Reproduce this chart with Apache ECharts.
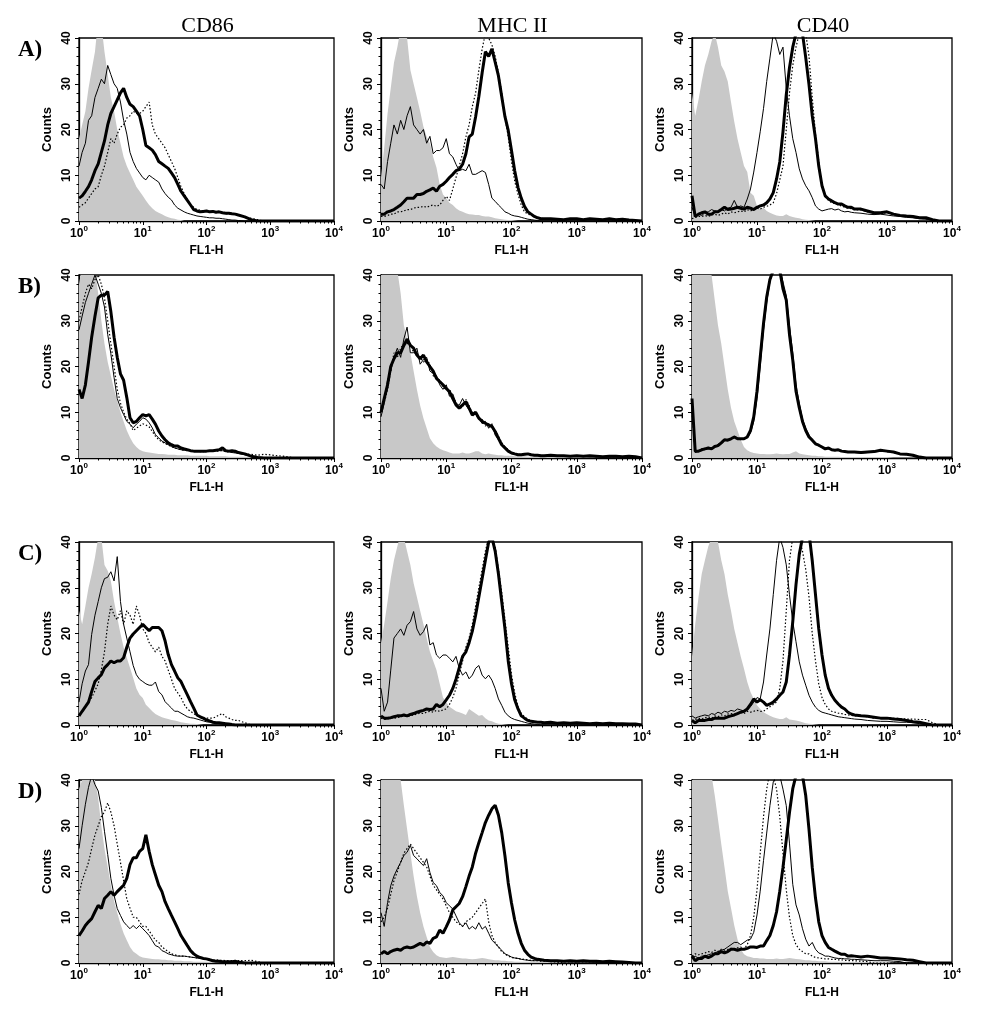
<!DOCTYPE html>
<html><head><meta charset="utf-8">
<script src="https://cdn.jsdelivr.net/npm/echarts@6/dist/echarts.min.js"></script>
<style>html,body{margin:0;padding:0;background:#fff}#c{width:993px;height:1015px}</style>
</head><body><div id="c"></div>
<script>
// FL1-H channel positions (shared x values)
const X = [1,1.12,1.26,1.41,1.58,1.78,2,2.24,2.51,2.82, 3.16,3.55,3.98,4.47,5.01,5.62,6.31,7.08,7.94,8.91,
 10,11.2,12.6,14.1,15.8,17.8,20,22.4,25.1,28.2, 31.6,35.5,39.8,44.7,50.1,56.2,63.1,70.8,79.4,89.1,
 100,112,126,141,158,178,200,224,251,282, 316,398,501,631,794,1000,1259,1585,1995,2512,
 3162,3981,5012,6310,7943,10000];
const COLUMN_TITLES = ['CD86','MHC II','CD40'];
const ROW_LABELS = ['A)','B)','C)','D)'];
const X_TICK_EXP = [0,1,2,3,4];
const Y_TICKS = [0,10,20,30,40];
const X_MINOR = [2,3,4,5,6,7,8,9,20,30,40,50,60,70,80,90,200,300,400,500,600,700,800,900,2000,3000,4000,5000,6000,7000,8000,9000];

// Row A
const A_CD86_iso = [18,21,24,29,33,37,44,43,37,32, 27,24,20,17,14,12,10.5,9,7.5,6.5, 5.5,4.5,3.5,2.8,2.2,1.8,1.5,1.1,0.8,0.6, 0.5,0.3,0.2,0,0,0,0,0,0,0, 0,0,0,0,0,0,0,0,0,0, 0,0,0,0,0,0,0,0,0,0, 0,0,0,0,0,0];
const A_CD86_thin = [12,15,17,22,23,27,29,31,30,34, 32,30,29,26,22,19,15,13,11.5,10.5, 9.5,9,10,9.5,9,8.5,7,6,5.2,4.6, 3.5,2.8,2.4,2,1.7,1.5,1.3,1.1,1,0.9, 0.8,0.7,0.7,0.6,0.6,0.5,0.4,0.3,0.2,0.2, 0.1,0,0,0,0,0,0,0,0,0, 0,0,0,0,0,0];
const A_CD86_thick = [5,5.5,6.5,7.5,9,11,12.5,15,17.5,21, 23.5,25,26.5,28,29,27,25.5,25,24,23, 20,16.5,16,15.5,14.5,13,12.5,12,11.5,10.5, 9.5,8,6.5,5.5,4.5,3.5,2.5,2.2,2,2.1, 2.2,2,2.1,1.9,2,1.8,1.7,1.7,1.6,1.5, 1.3,0.9,0.3,0,0,0,0,0,0,0, 0,0,0,0,0,0];
const A_CD86_dot = [3,3.5,4,5,6,7,7.5,10,12,15, 18,17,19,20.5,21,22.5,23,24,23.5,23.5, 24,25,26,21,19,18,17,16,14.5,13, 11.5,9.5,7.5,6,4.6,3.5,3,2.5,2.4,2.2, 2.1,2,2,1.9,2,1.8,1.6,1.5,1.5,1.4, 1.2,0.8,0.6,0.3,0,0,0,0,0,0, 0,0,0,0,0,0];
const A_MHC_iso = [9.5,16,23.5,29,34.6,38,42,43,40,33, 30,27,24,20.6,18.4,17,14,11.7,8,5.8, 5,4,3.5,2.8,2.3,2,1.7,1.5,1.4,1.3, 1.3,1.1,1,1,0.8,0.6,0.5,0.4,0.3,0.2, 0.2,0.1,0,0,0,0,0,0,0,0, 0,0,0,0,0,0,0,0,0,0, 0,0,0,0,0,0];
const A_MHC_thin = [8,7,13,17,21,19,22,20,23,25, 21,20,19,20,17,18.5,14.7,15.4,15.4,16, 18,14.7,14,12.4,11,11.3,11,12.4,10.2,10.2, 10.6,11,10.6,8,5,4.3,3.5,2.8,2,1.7, 1.3,1.1,1,0.8,0.6,0.4,0.3,0.2,0.1,0, 0,0,0,0,0,0,0,0,0,0, 0,0,0,0,0,0];
const A_MHC_thick = [1.5,1.5,2,2.2,2.5,3,3.5,4.2,5,5, 5,5.8,5.8,6,6.5,6.8,7.2,6.5,7.6,8, 8.7,9.5,10.2,11,11.3,12.4,14.7,18.4,19,22.8, 27.2,32.4,37,36,37.6,34.7,31.7,27.2,22.8,19.8, 15.4,11,7.3,5,3.2,2,1.5,1,0.7,0.5, 0.5,0.5,0.4,0.3,0.5,0.5,0.3,0.5,0.4,0.3, 0.5,0.3,0.4,0.2,0.1,0];
const A_MHC_dot = [1,1,1.2,1.5,1.5,2,2,2.2,2.5,2.5, 2.8,3,3,3.2,3,3.3,3.5,3.2,3.5,4.5, 5.4,4.5,7,9.5,12,14.7,18.4,21,25,28, 33,37.6,41,40,38.5,36,32.4,28,22.8,18.4, 13,8.7,5.8,3.5,2,1.5,1.3,1,0.8,0.6, 0.5,0.4,0.4,0.3,0.4,0.3,0.3,0.4,0.3,0.2, 0.3,0.2,0.2,0.1,0,0];
const A_CD40_iso = [28,23,26.5,30.5,34,36.4,39.3,41,38,34, 32.7,30.5,26,21.7,18,15,12,10.7,6.2,5.5, 3.3,2.6,2.9,2.2,1.8,1.5,1.2,1.1,1.1,1.5, 1.1,0.9,0.7,0.6,0.4,0.3,0.2,0.1,0,0, 0,0,0,0,0,0,0,0,0,0, 0,0,0,0,0,0,0,0,0,0, 0,0,0,0,0,0];
const A_CD40_thin = [3,1,1.5,1.2,1.8,2,2.5,2.2,2,2.5, 2.2,2.8,3,4.5,3,3.3,3,4.8,7,10.7, 15,19.5,24.6,30.5,35.6,41,39.3,36.4,38,29, 23,18,15,11.4,9.2,7.7,6.6,5.1,3.3,2.6, 2.2,2.4,2.6,2.7,2.4,2.6,2.2,2,2.1,1.9, 1.8,1.7,1.5,1.4,1.5,1.3,1.1,1,0.8,0.7, 0.5,0.4,0.2,0,0,0];
const A_CD40_thick = [5.5,1,1.5,1.8,2,1.5,1.5,2,2,2.5, 3,2.5,2.6,2.8,3,2.8,2.6,3,2.8,2.5, 3,3.3,3.5,4,4.8,6.2,9.2,12.9,19.5,27.6, 33.5,38,41,41,41,35.7,29.8,23,18,12, 7.7,5.5,4.8,4.4,4,3.7,3.7,3.3,3,3, 2.6,2.6,2.2,1.8,1.8,2,1.5,1.2,1.1,1, 0.7,0.7,0.3,0,0,0];
const A_CD40_dot = [0.5,0.8,1,1,1.2,1,1.3,1.5,1.2,1.5, 1.8,1.5,2,1.8,2,2.2,2,2.5,2.2,2.5, 2.8,2.6,3,3.2,3.5,4,6,9,12,20, 28,34,38,41,41,41,36,27,19,13, 8,5.5,4.5,4,3.8,3.5,3.3,3,2.8,2.7, 2.5,2.4,2,1.7,1.6,1.8,1.4,1.1,1,0.9, 0.6,0.5,0.2,0,0,0];

// Row B
const B_CD86_iso = [38,42,44,43,42,41,36,30,25,21, 18,15,12.5,10,8,6,4.5,3.2,2.4,1.8, 1.5,1.3,1.2,1.1,1,0.9,0.9,0.8,0.7,0.7, 0.7,0.6,0.6,0.6,0.6,0.5,0.5,0.5,0.5,0.5, 0.5,0.4,0.4,0.4,0.4,0.4,0.4,0.3,0.3,0.3, 0.3,0.3,0.2,0.2,0.2,0.2,0,0,0,0, 0,0,0,0,0,0];
const B_CD86_thin = [28,31,34,36,38,40,38,36,33,27, 22.8,17.6,13,11,9.5,8,7.4,6.6,7.4,8, 8.8,8.5,7.7,6.6,5.1,4.4,3.7,3.3,2.9,2.5, 2.2,2,1.8,1.7,1.7,1.6,1.6,1.5,1.5,1.5, 1.5,1.6,1.6,1.6,1.7,1.6,1.5,1.4,1.2,1.1, 1,0.7,0.4,0.2,0.1,0,0,0,0,0, 0,0,0,0,0,0];
const B_CD86_thick = [15,13,16,21,26.4,31,35,35.6,35.6,36.4, 32,26.4,22,18.4,17,13.2,8.8,7.7,8,8.8, 9.5,9.2,9.5,8.5,7.4,5.9,4.8,4,3.3,2.9, 2.6,2.6,2.2,2,1.8,1.6,1.5,1.5,1.5,1.5, 1.5,1.6,1.6,1.7,1.8,2.2,1.6,1.5,1.6,1.5, 1.2,0.9,0.4,0.1,0,0,0,0,0,0, 0,0,0,0,0,0];
const B_CD86_dot = [30,33,36,38,37,39,40,38,35,30, 25,20,15,12,10,8.5,7.5,6,6.5,7, 7.5,7.2,6.8,5.8,4.8,4,3.5,3.2,2.8,2.5, 2.2,2,1.8,1.7,1.6,1.6,1.5,1.5,1.4,1.4, 1.5,1.5,1.4,1.5,1.5,1.6,1.4,1.3,1.3,1.2, 1.1,0.9,0.8,0.6,0.8,0.7,0.5,0.4,0.2,0, 0,0,0,0,0,0];
const B_MHC_iso = [42,44,43,42,44,41,36,29,26,23, 19,15,11.5,8.7,6.5,4.3,3.2,2.5,2,1.7, 1.5,1.2,1,1,1,1.2,1,1,1.2,1.5, 1.5,1,0.8,1,0.8,0.7,0.6,0.6,0.5,0.5, 0.5,0.4,0.4,0.4,0.4,0.3,0.3,0.3,0.3,0.3, 0.3,0.3,0.2,0.2,0.2,0.2,0.2,0.1,0.1,0, 0,0,0,0,0,0];
const B_MHC_thin = [9,12,17,19,22,24,22,26,28.6,23, 23,24,20.5,21.5,22,19,18.5,18,16,15, 16,13.5,14,12,11.5,13,11.5,10.5,10,9.5, 9,7.5,8,6.5,7.5,5,4,3,2,1.3, 1,0.8,0.8,0.6,0.7,0.8,0.6,0.5,0.5,0.5, 0.4,0.5,0.4,0.4,0.5,0.4,0.3,0.4,0.3,0.3, 0.3,0.3,0.3,0.3,0.2,0];
const B_MHC_thick = [10,13,16,20,21.7,23,23,24.6,26,24.6, 24,22.5,21.7,22.5,21,20,19,17.4,16.7,16, 15.2,14.5,13,11.6,10.9,11.6,12.3,10.9,9.4,10, 8.7,8,7.6,7.2,6.9,5.8,4.3,2.9,2.2,1.5, 1.1,0.9,0.7,0.7,0.8,0.9,0.7,0.6,0.6,0.5, 0.5,0.6,0.5,0.5,0.4,0.5,0.4,0.5,0.4,0.3, 0.4,0.4,0.3,0.4,0.3,0];
const B_MHC_dot = [11,12,15,19,23,22,24,25,25,25, 23,23,22,21,21.5,20.5,18,17.5,17,15.5, 15,15,13.5,12,11,11,12.8,11.5,9.8,9.5, 8.5,8.4,7,7.5,6.5,6,4.8,3.3,2.5,1.8, 1.2,1,0.8,0.8,0.7,0.8,0.7,0.6,0.5,0.6, 0.5,0.5,0.5,0.4,0.4,0.4,0.4,0.4,0.3,0.3, 0.3,0.3,0.2,0.3,0.2,0];
const B_CD40_iso = [41,43,44,42,43,42,40,34.5,29,25, 20,15,11,8,6,4,2.4,1.7,1.3,1.1, 1,0.9,0.9,0.8,0.8,0.9,1,0.9,0.8,0.9, 0.9,1.2,1.5,1,0.8,0.7,0.6,0.5,0.5,0.4, 0.4,0.3,0.3,0.3,0.3,0.3,0.2,0.2,0.2,0.2, 0.2,0.2,0.2,0.2,0.2,0.2,0.1,0.1,0.1,0.1, 0,0,0,0,0,0];
const B_CD40_thin = [12,1.2,1.5,2,1.8,2.3,2.2,2.4,3,3.4, 3.8,4.1,4,4.8,4.4,4,4.3,4.4,5.5,8, 13,20,28,34,38.5,41,42,42,38.5,35.5, 29,23,16,12,8.5,6.5,5,4,3.3,2.7, 2.3,2.1,2,1.9,1.8,1.7,1.6,1.4,1.4,1.2, 1.2,1.1,1.2,1.3,1.5,1.4,1.2,1,0.8,0.5, 0.2,0,0,0,0,0];
const B_CD40_thick = [13,1.5,1.5,1.8,2,2.2,2,2.5,2.7,3.3, 4,3.9,4.2,4.6,4.2,4.2,4.2,4.6,6,9, 14.6,22,29.4,35.2,39,41,42,41,37,34.5, 27,21.4,14.6,11,8,6,4.6,3.9,3.1,2.8, 2.4,2,2.2,1.8,1.7,1.8,1.5,1.4,1.3,1.3, 1.3,1.2,1.3,1.4,1.7,1.5,1.3,0.9,0.8,0.6, 0.2,0,0,0,0,0];
const B_CD40_dot = [10,1.3,1.6,1.7,2.1,2,2.3,2.6,2.8,3.2, 3.8,4,4.1,4.5,4.3,4.1,4.3,4.5,5.8,8.5, 14,21,29,35,39.5,41,42,42,38,35, 28,22,15,11.5,8.2,6.2,4.8,3.8,3.2,2.7, 2.3,2.1,2.1,1.8,1.7,1.8,1.5,1.4,1.3,1.2, 1.2,1.2,1.2,1.4,1.6,1.4,1.2,0.9,0.7,0.5, 0.2,0,0,0,0,0];

// Row C
const C_CD86_iso = [25,22,26,30,33,36.6,41,41,35,33.7, 31.5,27,23.5,20,17,14.7,12.5,10.3,8,6.6, 5.9,4.4,3.7,3,2.4,2,1.7,1.5,1.3,1.1, 1,0.8,0.6,0.5,0.4,0.3,0.3,0.2,0.1,0, 0,0,0,0,0,0,0,0,0,0, 0,0,0,0,0,0,0,0,0,0, 0,0,0,0,0,0];
const C_CD86_thin = [5,9,11.8,13.2,19.8,24,27,30,32,32.3, 33.5,31.5,36.8,27,22,19,16,13,11,10, 9.5,9,8.7,8.7,9.4,7.3,6.6,5.1,4.4,3.7, 3,3,2.6,2.2,1.8,1.6,1.5,1.3,1.1,0.9, 0.7,0.6,0.5,0.4,0.3,0.2,0.1,0,0,0, 0,0,0,0,0,0,0,0,0,0, 0,0,0,0,0,0];
const C_CD86_thick = [2,3,4,5,7.3,9.5,10.3,11,12.5,13.2, 14,13.6,14,14,14.7,17,19,19.9,20.6,21.3, 22,21.3,20.6,21.3,21.3,21.3,20.6,18.4,15.4,13.2, 11.8,10.3,9.5,8,6.6,5.1,3.7,2.2,1.8,1.5, 1.1,0.9,0.6,0.5,0.5,0.4,0.3,0.2,0.1,0, 0,0,0,0,0,0,0,0,0,0, 0,0,0,0,0,0];
const C_CD86_dot = [2,3,4,5,6,7.5,9,12,16,22, 26,24,23,25,22,25,24,22,26,24, 21,20,18,17,16,17,15,14,12,10, 8,7,6,4.5,3.5,3,2.5,2,2,1.5, 1.5,1.5,1.5,1.8,2.2,2.5,1.8,1.5,1.2,1, 1,0.5,0,0,0,0,0,0,0,0, 0,0,0,0,0,0];
const C_MHC_iso = [18,22,27,32,36,39,42,41,38,35, 31,28,25,22,19,16,14,12,9,6, 5,4,3.5,3,2.8,2.5,2.2,3.5,3,2.5, 2,2.2,1.5,1,0.8,0.5,0.3,0.2,0.1,0, 0,0,0,0,0,0,0,0,0,0, 0,0,0,0,0,0,0,0,0,0, 0,0,0,0,0,0];
const C_MHC_thin = [8,3,5,12,19,20,21,19.6,21.8,22.6, 24.8,21,19.6,20.4,22,17.5,18,15.3,14.6,15.3, 15.3,14.6,13.8,15,12.4,10.9,11.6,10.1,10.9,12.4, 13,10.9,10.1,10.9,9.8,8,5.7,4.3,2.8,2, 1.5,1.2,1,0.8,0.6,0.4,0.3,0.2,0.1,0, 0,0,0,0,0,0,0,0,0,0, 0,0,0,0,0,0];
const C_MHC_thick = [2,1.5,1.5,1.6,1.8,2,2,2.2,2,2.3, 2.5,2.8,3,3.2,3.5,3.4,3.5,4.5,4,4.5, 5.5,6.5,8,10,12.5,15,16,18,20.5,24, 28,32,36,40,41,38,33,27,21,14, 9,5.5,3.5,2,1.5,1,0.8,0.7,0.6,0.6, 0.5,0.6,0.4,0.5,0.4,0.5,0.4,0.3,0.4,0.3, 0.4,0.3,0.3,0.2,0.2,0];
const C_MHC_dot = [1.5,1.2,1.3,1.5,1.5,1.6,1.8,2,1.8,2, 2.2,2.4,2.6,2.5,2.8,3,2.8,3.2,3,3.3, 3.5,4.5,6,8,11,14,17,19,22,26, 30,34,38,41,41,39,34,29,23,17, 11,7,4,2.5,1.8,1.2,1,0.8,0.6,0.5, 0.4,0.4,0.3,0.4,0.3,0.3,0.3,0.2,0.2,0.2, 0.2,0.1,0,0,0,0];
const C_CD40_iso = [15,22,28,33,36,39,41,42,40,36, 33,28.5,25,21,18,15,12.3,9.4,7.2,5.7, 4.3,3.5,2.8,2.4,2,1.7,1.5,1.3,1.3,1.7, 1.2,1.1,1,0.8,0.6,0.4,0.3,0.2,0.1,0, 0,0,0,0,0,0,0,0,0,0, 0,0,0,0,0,0,0,0,0,0, 0,0,0,0,0,0];
const C_CD40_thin = [2,1.5,1.8,2,2.2,2,2.5,2.3,2.8,2.5, 3,2.8,3.2,3,3.5,3.3,3,3.2,4,5, 6,5.7,9.4,15.3,21,28.5,36,41,38.8,35, 28.5,22.6,18.2,13.8,10.9,8.7,6.5,5,3.9,3.2, 2.8,2.6,2.4,2.2,2,1.8,1.7,1.6,1.5,1.4, 1.3,1.2,1,0.9,0.8,0.8,0.7,0.6,0.6,0.5, 0.3,0,0,0,0,0];
const C_CD40_thick = [1,0.5,1,1,1,1.2,1.2,1.5,1.5,1.5, 1.5,1.8,2,2.2,2.5,2.8,3,3.5,4.5,5.7, 5,5.5,5,4.3,4.6,5,5.7,6.5,7.2,9.4, 15.3,22.6,30.7,37.3,41,41,42,35.9,28.5,21, 15.3,10.9,8,6.5,5.4,4.6,3.9,3.5,2.8,2.4, 2.2,2,1.9,1.7,1.5,1.5,1.3,1.2,1,0.7, 0.6,0.3,0,0,0,0];
const C_CD40_dot = [1,1.2,1.5,1.3,1.6,1.8,1.5,2,1.8,2.2, 2,2.4,2.5,2.3,2.6,2.8,2.5,3,2.8,3, 3.2,3,3,3.5,4,4.5,5,8,14,25, 36,41,42,41,38,34,28,20,14,9, 6,4.5,3.5,3,2.8,2.6,2.5,2.3,2.2,2.1, 2,2,1.8,1.5,1.5,1.6,1.5,1.4,1.3,1.3, 1.2,1.2,0.5,0,0,0];

// Row D
const D_CD86_iso = [38,40,42,42,41,40,36,30,25,21, 17,13.5,11,8.5,6.5,5,3.5,2.5,2,1.5, 1.2,1.1,1,0.9,0.8,0.8,0.7,0.7,0.6,0.6, 0.5,0.5,0.5,0.4,0.4,0.4,0.3,0.3,0.3,0.3, 0.3,0.2,0.2,0.2,0.1,0,0,0,0,0, 0,0,0,0,0,0,0,0,0,0, 0,0,0,0,0,0];
const D_CD86_thin = [25,30,34.7,38.4,41,39,37.6,34,28.8,23.7, 18.5,14.8,11.9,10.4,9,8.2,7.5,8.2,7.5,8.2, 7.5,6.8,6,4.9,3.8,3.5,2.7,2.4,2,1.8, 1.6,1.5,1.5,1.5,1.4,1.3,1.2,1.1,1,0.9, 0.9,0.7,0.5,0.4,0.3,0.2,0.1,0,0,0, 0,0,0,0,0,0,0,0,0,0, 0,0,0,0,0,0];
const D_CD86_thick = [6,7,8.2,9,9.7,11.2,12.6,11.9,14.1,14.8, 15.6,14.8,15.6,16.3,17,18.5,21.5,23,23,24.4, 25,28,24.4,21.5,19.3,17,15.6,13.4,11.9,10.4, 9,7.5,6,4.9,3.8,2.7,2,1.5,1.2,1, 0.9,0.7,0.5,0.4,0.4,0.3,0.3,0.3,0.3,0.4, 0.2,0,0,0,0,0,0,0,0,0, 0,0,0,0,0,0];
const D_CD86_dot = [15,18,20,22,25,28,30,32,33,35, 33,30,26,22,18,14,12,10,10,9, 8,8,7,6,5,4.5,3.5,3,2.5,2, 1.8,1.6,1.5,1.5,1.4,1.3,1.2,1.1,1,0.9, 0.8,0.8,0.7,0.7,0.6,0.6,0.5,0.5,0.5,0.5, 0.5,0.5,0.6,0.3,0,0,0,0,0,0, 0,0,0,0,0,0];
const D_MHC_iso = [42,44,43,42,42,41,40,34.5,29.3,24, 19,14.6,11,8,5.7,3.5,2.4,1.7,1.3,1.2, 1.1,1.2,1.3,1.2,1.1,1,1,0.9,0.8,0.9, 1,1.1,1,0.8,0.7,0.6,0.6,0.5,0.5,0.4, 0.4,0.3,0.3,0.3,0.3,0.3,0.3,0.2,0.2,0.2, 0.2,0.2,0.2,0.2,0.1,0.1,0.1,0.1,0,0, 0,0,0,0,0,0];
const D_MHC_thin = [11,8,13.2,16.9,19,20.6,22,23.5,24.2,25.7, 23.5,22.8,22,21.3,22.8,19.8,17.6,16.9,15.4,14.7, 13.2,12.5,11.8,10.3,8.8,8,8.8,7.4,8,7.4, 8.8,7.4,8,6.5,5,4.3,3.5,2.8,2,1.7, 1.3,1.1,1,0.8,0.7,0.6,0.5,0.5,0.5,0.5, 0.5,0.4,0.4,0.4,0.3,0.4,0.3,0.3,0.3,0.3, 0.3,0.2,0.2,0,0,0];
const D_MHC_thick = [2,2.5,2,2.5,2.8,3,2.8,3.3,3.5,3.3, 3.5,3.9,4.3,3.9,4.6,4.3,5.4,5.7,7.2,6.5, 7.9,9.4,11.6,12.3,13,14.5,16.7,19,21,24, 26.3,28.5,30.7,32.3,33.7,34.5,32.3,28.5,23.4,17.5, 13.1,9.4,6.5,4.3,2.8,1.9,1.3,1,0.8,0.7, 0.6,0.5,0.5,0.4,0.5,0.4,0.5,0.4,0.4,0.3, 0.4,0.3,0.2,0.1,0,0];
const D_MHC_dot = [9,10,12,15,18,20,22,24,25,26, 25,24,23,22,21,19,17,16,15,14, 12.5,11,10,9,8.5,8,9,9.5,10,11, 12,13,14,9,6,4.5,3.5,2.5,2,1.5, 1.2,1.1,1,0.9,0.8,0.7,0.6,0.5,0.5,0.4, 0.4,0.3,0.2,0,0,0,0,0,0,0, 0,0,0,0,0,0];
const D_CD40_iso = [42,44,43,43,42,42,41,36.6,31.4,26, 21,15.7,12,8.2,5.2,3,1.9,1.5,1.3,1.1, 1.1,1,1,0.9,0.9,0.9,1,0.9,0.9,1, 1.1,1,0.9,0.8,0.7,0.6,0.6,0.5,0.5,0.4, 0.4,0.4,0.3,0.3,0.3,0.3,0.3,0.3,0.2,0.2, 0.2,0.2,0.2,0.2,0.2,0.2,0,0,0,0, 0,0,0,0,0,0];
const D_CD40_thin = [1,1.5,1,1.5,1.5,1.8,2,2.2,2.5,2.8, 3,3.5,4,4.5,4.5,4,4.5,5,5.2,6.7, 10.5,15.7,22.4,28.4,34.4,39.6,41,41,38,34.4, 26.2,17.2,12.7,10.5,7.5,5.2,3.7,4.5,3,2.2, 1.9,1.5,1.5,1.3,1.1,1,1,0.9,0.9,0.8, 0.8,0.7,0.6,0.5,0.5,0.5,0.4,0.3,0,0, 0,0,0,0,0,0];
const D_CD40_thick = [1.5,0.5,1,1,1.5,1.2,1.5,2,2,2.5, 2.2,2.5,3,3,2.8,3,3,3.2,3.5,3.5, 3.4,3.7,3.7,4.9,6,8.2,11.2,15.7,20.9,26.9, 32.9,38.1,41,41,41,36.6,29.2,20.9,14.2,9, 6,4.5,3.4,3,2.6,2.2,1.9,1.9,1.5,1.6, 1.5,1.3,1.5,1.3,1.1,1.1,1,0.9,0.7,0.6, 0.3,0,0,0,0,0];
const D_CD40_dot = [1.5,2,1.8,2,2.2,2.5,2.3,2.8,2.5,3, 2.8,3,3.2,3,3.3,3.5,3,4,6,10, 16,24,32,38,42,41,38,32,24,16, 10,6,4,3,2.5,2,2,1.5,1.2,1.1, 1,0.9,0.9,0.8,0.8,0.7,0.7,0.6,0.5,0.5, 0.5,0.4,0.3,0,0,0,0,0,0,0, 0,0,0,0,0,0];

const PANELS = [
  [A_CD86_iso,A_CD86_dot,A_CD86_thin,A_CD86_thick],[A_MHC_iso,A_MHC_dot,A_MHC_thin,A_MHC_thick],[A_CD40_iso,A_CD40_dot,A_CD40_thin,A_CD40_thick],
  [B_CD86_iso,B_CD86_dot,B_CD86_thin,B_CD86_thick],[B_MHC_iso,B_MHC_dot,B_MHC_thin,B_MHC_thick],[B_CD40_iso,B_CD40_dot,B_CD40_thin,B_CD40_thick],
  [C_CD86_iso,C_CD86_dot,C_CD86_thin,C_CD86_thick],[C_MHC_iso,C_MHC_dot,C_MHC_thin,C_MHC_thick],[C_CD40_iso,C_CD40_dot,C_CD40_thin,C_CD40_thick],
  [D_CD86_iso,D_CD86_dot,D_CD86_thin,D_CD86_thick],[D_MHC_iso,D_MHC_dot,D_MHC_thin,D_MHC_thick],[D_CD40_iso,D_CD40_dot,D_CD40_thin,D_CD40_thick]
];

// layout
const GRID_LEFT = [79, 381, 692];
const GRID_WIDTH = [255, 261, 260];
const GRID_TOP = [38, 275, 542, 780];
const GRID_H = 183;
const SANS = '"Liberation Sans", Arial, sans-serif';
const SERIF = '"Liberation Serif", "Times New Roman", serif';

const grids = [], xAxes = [], yAxes = [], series = [];
PANELS.forEach((p, i) => {
  const r = Math.floor(i / 3), c = i % 3;
  grids.push({left: GRID_LEFT[c], top: GRID_TOP[r], width: GRID_WIDTH[c], height: GRID_H,
    show: true, borderColor: '#000', borderWidth: 1.3, backgroundColor: 'transparent'});
  xAxes.push({type: 'log', logBase: 10, gridIndex: i, min: 1, max: 10000,
    name: 'FL1-H', nameLocation: 'middle', nameGap: 24,
    nameTextStyle: {fontFamily: SANS, fontWeight: 'bold', fontSize: 12, color: '#000'},
    axisLine: {show: true, lineStyle: {color: '#000', width: 1.3}},
    axisTick: {show: true, length: 4, lineStyle: {color: '#000'}, customValues: X_TICK_EXP.map(e => Math.pow(10, e))},
    axisLabel: {show: true, margin: 4, customValues: X_TICK_EXP.map(e => Math.pow(10, e)),
      formatter: v => '{b|10}{s|' + Math.round(Math.log10(v)) + '}',
      rich: {b: {fontFamily: SANS, fontWeight: 'bold', fontSize: 12, color: '#000', lineHeight: 15, verticalAlign: 'bottom'},
             s: {fontFamily: SANS, fontWeight: 'bold', fontSize: 8, color: '#000', lineHeight: 9, verticalAlign: 'top'}}},
    splitLine: {show: false}});
  xAxes.push({type: 'log', logBase: 10, gridIndex: i, min: 1, max: 10000, position: 'bottom',
    axisLine: {show: false}, axisLabel: {show: false}, splitLine: {show: false},
    axisTick: {show: true, length: 2.5, lineStyle: {color: '#000'}, customValues: X_MINOR}});
  yAxes.push({type: 'value', gridIndex: i, min: Y_TICKS[0], max: Y_TICKS[Y_TICKS.length - 1], interval: 10,
    name: 'Counts', nameLocation: 'middle', nameGap: 25, nameRotate: 90,
    nameTextStyle: {fontFamily: SANS, fontWeight: 'bold', fontSize: 13, color: '#000'},
    axisLine: {show: true, lineStyle: {color: '#000', width: 1.3}},
    axisTick: {show: true, length: 4, lineStyle: {color: '#000'}},
    minorTick: {show: true, splitNumber: 5, length: 2.5, lineStyle: {color: '#000'}},
    axisLabel: {rotate: 90, margin: 6, fontFamily: SANS, fontWeight: 'bold', fontSize: 12, color: '#000'},
    splitLine: {show: false}});
  const mk = arr => X.map((x, k) => [x, arr[k]]);
  series.push({type: 'line', xAxisIndex: 2 * i, yAxisIndex: i, data: mk(p[0]), symbol: 'none',
    lineStyle: {width: 0}, areaStyle: {color: '#c8c8c8', opacity: 1}, z: 1, silent: true});
  series.push({type: 'line', xAxisIndex: 2 * i, yAxisIndex: i, data: mk(p[1]), symbol: 'none',
    lineStyle: {width: 1.2, color: '#000', type: [1.5, 2]}, z: 2, silent: true});
  series.push({type: 'line', xAxisIndex: 2 * i, yAxisIndex: i, data: mk(p[2]), symbol: 'none',
    lineStyle: {width: 1, color: '#000'}, z: 3, silent: true});
  series.push({type: 'line', xAxisIndex: 2 * i, yAxisIndex: i, data: mk(p[3]), symbol: 'none',
    lineStyle: {width: 3, color: '#000'}, z: 4, silent: true});
});

const graphics = [];
COLUMN_TITLES.forEach((t, c) => {
  graphics.push({type: 'text', x: GRID_LEFT[c] + GRID_WIDTH[c] / 2 + 1, y: GRID_TOP[0] - 12,
    style: {text: t, fill: '#000', font: '22px ' + SERIF, textAlign: 'center', textVerticalAlign: 'middle', align: 'center', verticalAlign: 'middle'}});
});
ROW_LABELS.forEach((t, r) => {
  graphics.push({type: 'text', x: 18, y: GRID_TOP[r] + 12,
    style: {text: t, fill: '#000', font: 'bold 23px ' + SERIF, textAlign: 'left', textVerticalAlign: 'middle', align: 'left', verticalAlign: 'middle'}});
});

const chart = echarts.init(document.getElementById('c'), null, {renderer: 'canvas'});
chart.setOption({animation: false, backgroundColor: '#fff', grid: grids, xAxis: xAxes, yAxis: yAxes, series: series, graphic: graphics});
</script></body></html>
